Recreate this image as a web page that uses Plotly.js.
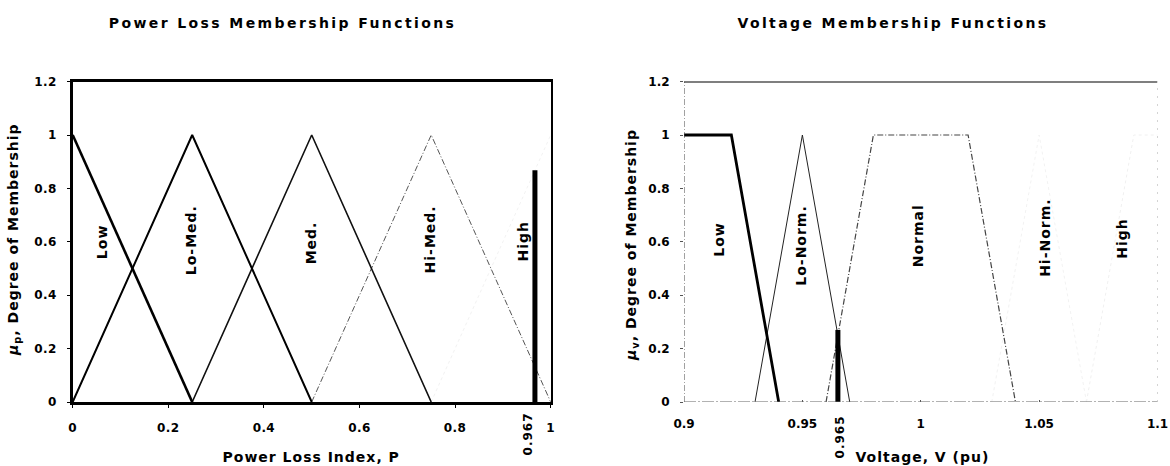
<!DOCTYPE html>
<html>
<head>
<meta charset="utf-8">
<script src="https://cdn.plot.ly/plotly-3.0.1.min.js"></script>
<style>
  html, body { margin: 0; padding: 0; background: #fff; }
  #chart { width: 1170px; height: 466px; }
  .xtick text, .ytick text { letter-spacing: 0.4px; }
  g.annotation text { letter-spacing: 1px; }
  g.annotation[data-index="0"] text, g.annotation[data-index="1"] text { letter-spacing: 2.4px; }
</style>
</head>
<body>
<div id="chart"></div>
<script>
// ---------- Data: Power Loss membership functions ----------
const lowP_x   = [0, 0.25];            const lowP_y   = [1, 0];
const loMedP_x = [0, 0.25, 0.5];       const loMedP_y = [0, 1, 0];
const medP_x   = [0.25, 0.5, 0.75];    const medP_y   = [0, 1, 0];
const hiMedP_x = [0.5, 0.75, 1];       const hiMedP_y = [0, 1, 0];
const highP_x  = [0.75, 1];            const highP_y  = [0, 1];
const barP_x   = [0.967, 0.967];       const barP_y   = [0, 0.868];
const barP_label = "0.967";

// ---------- Data: Voltage membership functions ----------
const lowV_x    = [0.9, 0.92, 0.94];         const lowV_y    = [1, 1, 0];
const loNormV_x = [0.93, 0.95, 0.97];        const loNormV_y = [0, 1, 0];
const normalV_x = [0.96, 0.98, 1.02, 1.04];  const normalV_y = [0, 1, 1, 0];
const hiNormV_x = [1.03, 1.05, 1.07];        const hiNormV_y = [0, 1, 0];
const highV_x   = [1.07, 1.09, 1.1];         const highV_y   = [0, 1, 1];
const barV_x    = [0.965, 0.965];            const barV_y    = [0, 0.27];
const barV_label = "0.965";

// ---------- Tick labels ----------
const yTickVals = [0, 0.2, 0.4, 0.6, 0.8, 1, 1.2];
const yTickText = ["0", "0.2", "0.4", "0.6", "0.8", "1", "1.2"];
const xPTickVals = [0, 0.2, 0.4, 0.6, 0.8, 1];
const xPTickText = ["0", "0.2", "0.4", "0.6", "0.8", "1"];
const xVTickVals = [0.9, 0.95, 1, 1.05, 1.1];
const xVTickText = ["0.9", "0.95", "1", "1.05", "1.1"];

// ---------- Region labels ----------
const pLabels  = ["Low", "Lo-Med.", "Med.", "Hi-Med.", "High"];
const pLabelX  = [0.061, 0.247, 0.498, 0.747, 0.943];
const pLabelY  = [0.60, 0.607, 0.597, 0.61, 0.603];
const vLabels  = ["Low", "Lo-Norm.", "Normal", "Hi-Norm.", "High"];
const vLabelX  = [0.9148, 0.9493, 0.999, 1.0522, 1.0852];
const vLabelY  = [0.61, 0.588, 0.622, 0.616, 0.613];

const FONT = "DejaVu Sans, Liberation Sans, Arial, sans-serif";

function ln(x, y, xa, ya, color, width, dash) {
  return { x: x, y: y, xaxis: xa, yaxis: ya, type: "scatter", mode: "lines",
           line: { color: color, width: width, dash: dash || "solid" },
           hoverinfo: "skip", showlegend: false, cliponaxis: false };
}

const data = [
  ln(highP_x,  highP_y,  "x", "y", "#f2f2f2", 1, "dot"),
  ln(hiMedP_x, hiMedP_y, "x", "y", "#555555", 1, "6px,2px,1px,2px"),
  ln(medP_x,   medP_y,   "x", "y", "#111111", 1.6),
  ln(loMedP_x, loMedP_y, "x", "y", "#000000", 2),
  ln(lowP_x,   lowP_y,   "x", "y", "#000000", 2.6),
  ln(barP_x,   barP_y,   "x", "y", "#000000", 5),

  ln(highV_x,   highV_y,   "x2", "y2", "#f0f0f0", 1, "dot"),
  ln(hiNormV_x, hiNormV_y, "x2", "y2", "#f2f2f2", 1, "dot"),
  ln(normalV_x, normalV_y, "x2", "y2", "#444444", 1.2, "6px,2px,1px,2px"),
  ln(loNormV_x, loNormV_y, "x2", "y2", "#222222", 1),
  ln(lowV_x,    lowV_y,    "x2", "y2", "#000000", 2.8),
  ln(barV_x,    barV_y,    "x2", "y2", "#000000", 5)
];

const tickFont = { family: FONT, size: 12, color: "#000", weight: "bold" };
const boldFont = { family: FONT, size: 14, color: "#000", weight: "bold" };

function ann(o) {
  return Object.assign({ showarrow: false, xanchor: "center", yanchor: "middle", font: boldFont }, o);
}

const annotations = [
  ann({ text: "Power Loss Membership Functions", xref: "paper", yref: "paper", x: 282/1170, y: 1 - 23/466 }),
  ann({ text: "Voltage Membership Functions", xref: "paper", yref: "paper", x: 893/1170, y: 1 - 23/466 }),
  ann({ text: "Power Loss Index, P", xref: "paper", yref: "paper", x: 311/1170, y: 1 - 457/466 }),
  ann({ text: "Voltage, V (pu)", xref: "paper", yref: "paper", x: 922/1170, y: 1 - 457/466 }),
  ann({ text: "<i>μ</i><sub>p</sub>, Degree of Membership", xref: "paper", yref: "paper", x: 14/1170, y: 1 - 240/466, textangle: -90 }),
  ann({ text: "<i>μ</i><sub>v</sub>, Degree of Membership", xref: "paper", yref: "paper", x: 632/1170, y: 1 - 245/466, textangle: -90 }),
  ann({ text: barP_label, xref: "x", yref: "paper", x: barP_x[0], xshift: -7, y: 1 - 434/466, textangle: -90, font: tickFont }),
  ann({ text: barV_label, xref: "x2", yref: "paper", x: barV_x[0], xshift: 2, y: 1 - 437/466, textangle: -90, font: tickFont })
];
pLabels.forEach((t, i) => annotations.push(ann({ text: t, xref: "x", yref: "y", x: pLabelX[i], y: pLabelY[i], textangle: -90 })));
vLabels.forEach((t, i) => annotations.push(ann({ text: t, xref: "x2", yref: "y2", x: vLabelX[i], y: vLabelY[i], textangle: -90 })));

const yDom = [1 - 402/466, 1 - 81.6/466];

const layout = {
  width: 1170, height: 466,
  margin: { l: 0, r: 0, t: 0, b: 0 },
  paper_bgcolor: "#fff", plot_bgcolor: "#fff",
  showlegend: false,
  xaxis: { domain: [72.7/1170, 550.7/1170], range: [0, 1], tickvals: xPTickVals, ticktext: xPTickText,
           showgrid: false, zeroline: false, showline: true, mirror: true, linecolor: "#000", linewidth: 2.5,
           ticks: "outside", ticklen: 3, tickcolor: "#000", ticklabelstandoff: 10, tickfont: tickFont, anchor: "y" },
  yaxis: { domain: yDom, range: [0, 1.2], tickvals: yTickVals, ticktext: yTickText,
           showgrid: false, zeroline: false, showline: true, mirror: true, linecolor: "#000", linewidth: 2.5,
           ticks: "outside", ticklen: 3, tickcolor: "#000", ticklabelstandoff: 8, tickfont: tickFont, anchor: "x" },
  xaxis2: { domain: [684/1170, 1157.5/1170], range: [0.9, 1.1], tickvals: xVTickVals, ticktext: xVTickText,
           showgrid: false, zeroline: false, showline: false,
           ticks: "inside", ticklen: 2, tickcolor: "#555", ticklabelstandoff: 13, tickfont: tickFont, anchor: "y2" },
  yaxis2: { domain: yDom, range: [0, 1.2], tickvals: yTickVals, ticktext: yTickText,
           showgrid: false, zeroline: false, showline: false,
           ticks: "outside", ticklen: 3, tickcolor: "#555", ticklabelstandoff: 8, tickfont: tickFont, anchor: "x2" },
  shapes: [
    { type: "line", xref: "x2", yref: "y2", x0: 0.9, x1: 1.1, y0: 1.2, y1: 1.2, layer: "above", line: { color: "#000", width: 2 } },
    { type: "line", xref: "x2", yref: "y2", x0: 0.9, x1: 0.9, y0: 0, y1: 1.2, line: { color: "#444", width: 1, dash: "6px,2px,1px,2px" } },
    { type: "line", xref: "x2", yref: "y2", x0: 1.1, x1: 1.1, y0: 0, y1: 1.2, line: { color: "#aaa", width: 1, dash: "2px,6px" } },
    { type: "line", xref: "x2", yref: "y2", x0: 0.9, x1: 1.1, y0: 0, y1: 0, line: { color: "#666", width: 1.2, dash: "12px,2px,2px,2px" } }
  ],
  annotations: annotations
};

Plotly.newPlot("chart", data, layout, { staticPlot: true, displayModeBar: false });
</script>
</body>
</html>
